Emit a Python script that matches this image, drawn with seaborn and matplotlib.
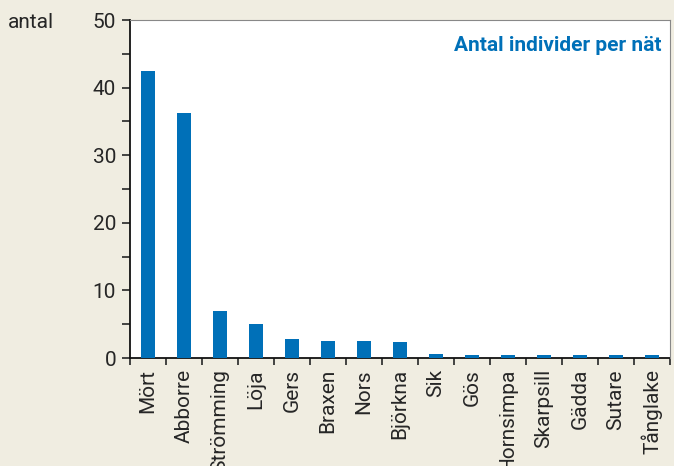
import matplotlib
matplotlib.use('Agg')

import matplotlib.pyplot as plt
import seaborn as sns
import numpy as np
import pandas as pd

species = ["Mört", "Abborre", "Strömming", "Löja", "Gers", "Braxen", "Nors",
           "Björkna", "Sik", "Gös", "Hornsimpa", "Skarpsill", "Gädda", "Sutare", "Tånglake"]
antal = [42.5, 36.2, 6.9, 5.1, 2.8, 2.5, 2.5, 2.3, 0.6, 0.4, 0.4, 0.4, 0.4, 0.4, 0.4]

bg = "#f0ede1"
blue = "#0070b8"

sns.set_style("ticks")
plt.rcParams['font.family'] = ['Roboto', 'DejaVu Sans']

df = pd.DataFrame({"art": species, "antal": antal})

fig = plt.figure(figsize=(6.74, 4.66), dpi=100, facecolor=bg)
ax = fig.add_axes([130 / 674, 1 - 358 / 466, 540 / 674, 338 / 466])
ax.set_facecolor("white")

sns.barplot(data=df, x="art", y="antal", color=blue, width=0.38, ax=ax,
            saturation=1, linewidth=0)
for p in ax.patches:
    p.set_zorder(3)

ax.set_xlim(-0.5, len(species) - 0.5)
ax.set_ylim(0, 50)
ax.set_yticks([0, 10, 20, 30, 40, 50])
ax.set_yticks(np.arange(5, 50, 10), minor=True)
ax.set_xticks(np.arange(len(species)))
ax.set_xticklabels(species, rotation=90, fontsize=15)
ax.set_xticks(np.arange(-0.5, len(species), 1), minor=True)
ax.tick_params(axis='x', which='major', length=0, pad=8)
ax.tick_params(axis='x', which='minor', length=5, width=1.2, direction='out')
ax.tick_params(axis='y', which='major', length=6, width=1.2, labelsize=15, pad=4)
ax.tick_params(axis='y', which='minor', length=6, width=1.2)
ax.set_xlabel("")
ax.set_ylabel("")

for side in ["top", "right"]:
    ax.spines[side].set_color("#888888")
    ax.spines[side].set_linewidth(0.8)
for side in ["left", "bottom"]:
    ax.spines[side].set_color("#111111")
    ax.spines[side].set_linewidth(1.3)
    ax.spines[side].set_zorder(2)

ax.text(0.985, 0.925, "Antal individer per nät", transform=ax.transAxes,
        ha='right', va='center', color=blue, fontsize=15, fontweight='bold')
fig.text(8 / 674, 1 - 22 / 466, "antal", ha='left', va='center', fontsize=15)

fig.savefig("out.png", dpi=100, facecolor=bg)
